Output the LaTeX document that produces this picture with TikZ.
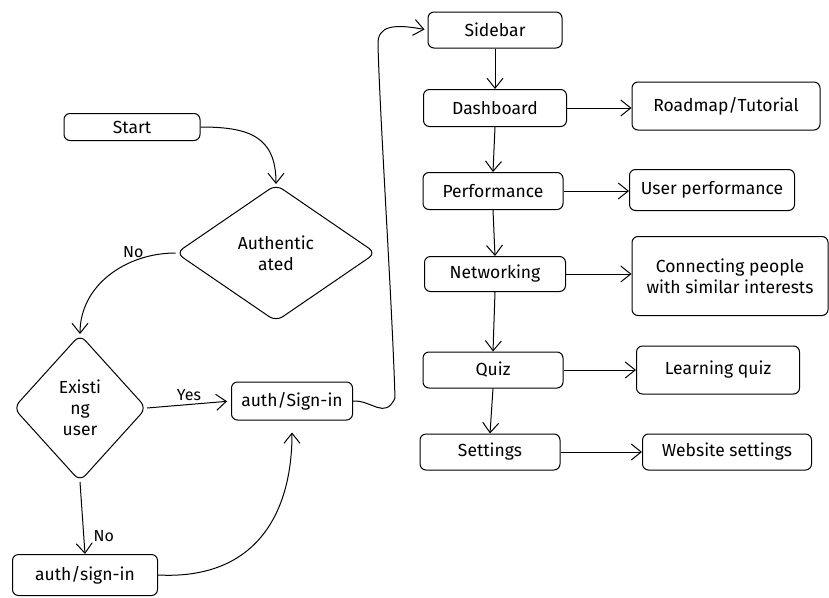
\documentclass[tikz,border=0pt]{standalone}
\usepackage{fontspec}
\setmainfont{Fira Sans}
\usetikzlibrary{arrows.meta,shapes.geometric}

\begin{document}
\begin{tikzpicture}[x=1pt,y=1pt]
                        \tikzstyle{box}=[draw, rounded corners=6pt, line width=1pt, font=\fontsize{17.5}{21}\selectfont, align=center, inner sep=2pt]
                        \tikzstyle{choice}=[draw, diamond, rounded corners=8pt, line width=1pt, font=\fontsize{17.5}{21}\selectfont, align=center, inner sep=0pt]
                        \tikzstyle{link}=[line width=1pt, -{Straight Barb[length=10pt,width=16pt,line width=1pt]}]
                        \tikzstyle{tag}=[font=\fontsize{16}{19}\selectfont]
                        \useasboundingbox (0,0) rectangle (829,-597);
                        \node[box, minimum width=136pt, minimum height=27pt] (start) at (132,-127) {Start};
                        \node[choice, minimum width=200pt, minimum height=137pt] (authq) at (276,-253) {Authentic\\ated};
                        \node[choice, minimum width=133pt, minimum height=147pt] (existq) at (80,-408) {Existi\\ng\\user};
                        \node[box, minimum width=121pt, minimum height=38pt] (signin) at (292,-401) {auth/Sign-in};
                        \node[box, minimum width=145pt, minimum height=41pt] (signup) at (85,-575) {auth/sign-in};
                        \node[box, minimum width=134pt, minimum height=36pt] (sidebar) at (495,-30) {Sidebar};
                        \node[box, minimum width=143pt, minimum height=37pt] (dash) at (495,-108) {Dashboard};
                        \node[box, minimum width=188pt, minimum height=48pt] (road) at (726,-106) {Roadmap/Tutorial};
                        \node[box, minimum width=140pt, minimum height=37pt] (perf) at (493,-191) {Performance};
                        \node[box, minimum width=165pt, minimum height=41pt] (userperf) at (712,-190) {User performance};
                        \node[box, minimum width=141pt, minimum height=35pt] (net) at (495,-274) {Networking};
                        \node[box, minimum width=196pt, minimum height=79pt] (connect) at (730,-276) {Connecting people\\with similar interests};
                        \node[box, minimum width=140pt, minimum height=36pt] (quiz) at (493,-370) {Quiz};
                        \node[box, minimum width=163pt, minimum height=48pt] (learn) at (718,-370) {Learning quiz};
                        \node[box, minimum width=140pt, minimum height=36pt] (settings) at (490,-452) {Settings};
                        \node[box, minimum width=169pt, minimum height=36pt] (webset) at (727,-452) {Website settings};
                        \draw[link] (start.east) to[out=0,in=90,looseness=1.3] (authq.north);
                        \draw[link] (authq.west) to[out=180,in=90] node[tag, pos=0.3, above] {No} (existq.north);
                        \draw[link, shorten >=4pt] (existq.east) -- node[tag, above] {Yes} (signin.west);
                        \draw[link] (existq.south) -- node[tag, right, pos=0.75, xshift=6pt] {No} (signup.north);
                        \draw[link, shorten >=12pt] (signup.east) to[out=-3,in=-90,looseness=1.2] (signin.south);
                        \draw[link, shorten >=3pt] (signin.east) .. controls (372,-400) and (385,-420) .. (395,-398)
                            .. controls (392,-300) and (380,-120) .. (378,-45)
                            .. controls (377,-25) and (395,-24) .. (sidebar.west);
                        \draw[link] (sidebar.south) -- (dash.north);
                        \draw[link] (dash.south) -- (perf.north);
                        \draw[link] (perf.south) -- (net.north);
                        \draw[link] (net.south) -- (quiz.north);
                        \draw[link] (quiz.south) -- (settings.north);
                        \draw[link] (dash.east) -- (dash.east -| road.west);
                        \draw[link] (perf.east) -- (perf.east -| userperf.west);
                        \draw[link] (net.east) -- (net.east -| connect.west);
                        \draw[link] (quiz.east) -- (quiz.east -| learn.west);
                        \draw[link] (settings.east) -- (settings.east -| webset.west);
                    \end{tikzpicture}
\end{document}
